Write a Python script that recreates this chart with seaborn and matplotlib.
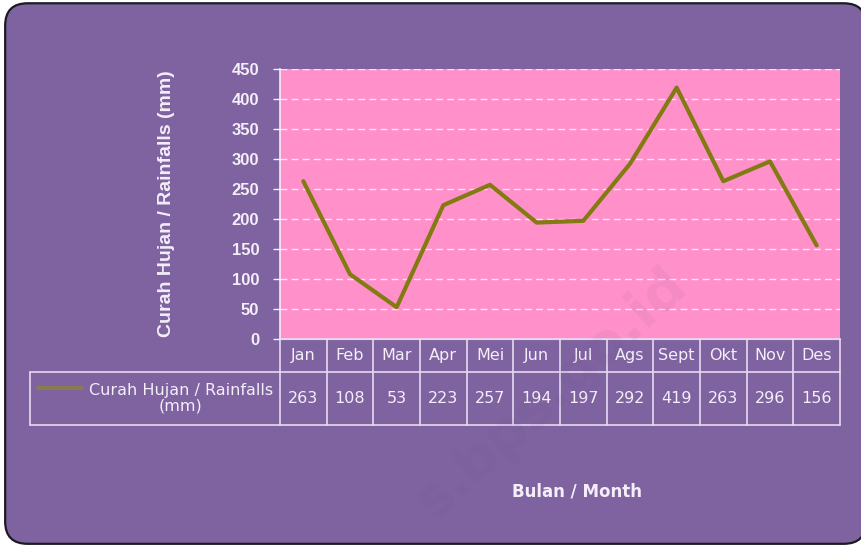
import numpy as np
import pandas as pd
import matplotlib
matplotlib.use("Agg")
import matplotlib.pyplot as plt
import seaborn as sns
from matplotlib.patches import FancyBboxPatch

# data
months = ["Jan", "Feb", "Mar", "Apr", "Mei", "Jun", "Jul", "Ags", "Sept", "Okt", "Nov", "Des"]
rainfall = [263, 108, 53, 223, 257, 194, 197, 292, 419, 263, 296, 156]
yticks = [0, 50, 100, 150, 200, 250, 300, 350, 400, 450]
series_label = "Curah Hujan / Rainfalls\n(mm)"

purple = "#7f62a0"
pink = "#ff90ca"
olive = "#837b12"
light = "#f4eef8"
border = "#e6daf0"

df = pd.DataFrame({"month": months, "rain": rainfall})

sns.set_style("white")
plt.rcParams["font.family"] = ["DejaVu Sans"]

fig = plt.figure(figsize=(8.61, 5.46), dpi=100)
fig.patch.set_facecolor("white")

# rounded purple panel behind everything
panel = FancyBboxPatch((0.006, 0.004), 1.0, 0.99, boxstyle="round,pad=0,rounding_size=0.026",
                       transform=fig.transFigure, facecolor=purple, edgecolor="#1c1a22",
                       linewidth=1.6, mutation_aspect=861 / 546, zorder=-10)
fig.add_artist(panel)

ax = fig.add_axes([280 / 861, 1 - 339 / 546, 560 / 861, 270 / 546])
ax.set_facecolor(pink)

sns.lineplot(data=df, x="month", y="rain", ax=ax, color=olive, linewidth=3, sort=False)

ax.set_xlim(-0.5, 11.5)
ax.set_ylim(0, 450)
ax.set_yticks(yticks)
ax.set_yticklabels([str(v) for v in yticks], fontfamily="Liberation Sans", fontweight="bold",
                   fontsize=12, color=light)
ax.set_xticks([])
ax.set_xlabel("")
ax.tick_params(axis="y", length=5, width=1, color=light, pad=10, direction="out", left=True)
ax.yaxis.grid(True, color="#fbe6f2", linestyle=(0, (5, 3)), linewidth=1)
ax.set_axisbelow(True)
for s in ["top", "right"]:
    ax.spines[s].set_visible(False)
ax.spines["left"].set_color(light)
ax.spines["bottom"].set_color(border)
ax.spines["left"].set_linewidth(1.2)

ax.set_ylabel("Curah Hujan / Rainfalls (mm)", fontfamily="Liberation Sans", fontweight="bold",
              fontsize=14, color=light)
ax.yaxis.set_label_coords(-0.1875, 0.5)

# data table under the plot (axes fraction coordinates)
tr = ax.transAxes
n = len(months)
y0, y1, y2 = 0.0, -33 / 270, -86 / 270
xl = -250 / 560
kw = dict(transform=tr, clip_on=False, color=border, linewidth=1.2)
for i in range(n + 1):
    xf = i / n
    ax.plot([xf, xf], [y0, y2], **kw)
ax.plot([xl, xl], [y1, y2], **kw)
ax.plot([0, 1], [y0, y0], **kw)
ax.plot([xl, 1], [y1, y1], **kw)
ax.plot([xl, 1], [y2, y2], **kw)

for i, (m, v) in enumerate(zip(months, rainfall)):
    xc = (i + 0.5) / n
    ax.text(xc, (y0 + y1) / 2, m, transform=tr, ha="center", va="center",
            fontsize=11.5, color=light, clip_on=False)
    ax.text(xc, (y1 + y2) / 2, str(v), transform=tr, ha="center", va="center",
            fontsize=11.5, color=light, clip_on=False)

# legend key in the table
ax.plot([(38 - 280) / 560, (82 - 280) / 560], [(339 - 388) / 270] * 2, transform=tr,
        clip_on=False, color="#8a7a52", linewidth=3)
ax.text((181 - 280) / 560, (y1 + y2) / 2, series_label, transform=tr, ha="center", va="center",
        fontsize=11.5, color=light, clip_on=False, linespacing=1.0)

ax.text((577 - 280) / 560, (339 - 491) / 270, "Bulan / Month", transform=tr, ha="center",
        va="center", fontsize=12, fontweight="bold", color=light, clip_on=False)

# faint watermark
fig.text(0.64, 0.28, "s.bps.go.id", rotation=42, fontsize=40, fontweight="bold",
         color="#6a4f8a", alpha=0.07, ha="center", va="center")

fig.savefig("out.png", dpi=100, facecolor=fig.get_facecolor())
